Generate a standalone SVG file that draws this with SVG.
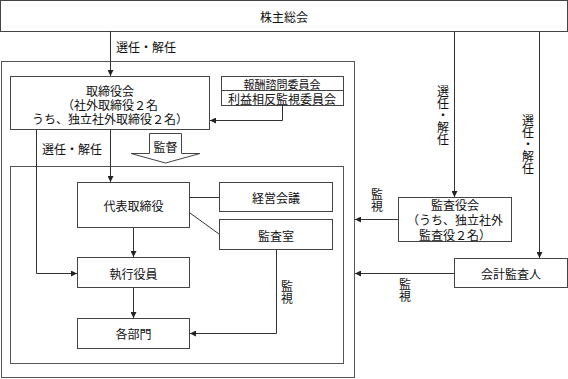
<svg xmlns="http://www.w3.org/2000/svg" width="568" height="379" viewBox="0 0 568 379">
<defs>
<style>
.b{fill:#fff;stroke:#444;stroke-width:1}
.o{fill:none;stroke:#555;stroke-width:1}
.t{font-family:"Noto Sans CJK JP","Noto Sans CJK SC",sans-serif;font-size:12px;fill:#111;text-anchor:middle;dominant-baseline:central}
.v{writing-mode:vertical-rl}
.c{fill:none;stroke:#333;stroke-width:1}
</style>
<marker id="a" markerWidth="6" markerHeight="6" refX="6" refY="3" orient="auto" markerUnits="userSpaceOnUse"><path d="M0,0 L6,3 L0,6 z" fill="#222"/></marker>
</defs>
<rect width="568" height="379" fill="#fff"/>
<g id="outer"><rect class="o" x="1.5" y="61.5" width="353" height="316"/></g>
<g id="inner"><rect class="o" x="10.5" y="166.5" width="333" height="197"/></g>
<g id="kabunushi"><rect class="b" x="0.5" y="0.5" width="567" height="31"/><text class="t" x="284" y="16">株主総会</text></g>
<g id="torishimariyakukai"><rect class="b" x="10.5" y="76.5" width="199" height="53"/><text class="t" x="110" y="90">取締役会</text><text class="t" x="110" y="104">（社外取締役２名</text><text class="t" x="110" y="118">うち、独立社外取締役２名）</text></g>
<g id="iinkai"><rect class="b" x="221.5" y="76.5" width="122" height="29"/><line class="b" x1="221.5" y1="90.5" x2="343.5" y2="90.5"/><text class="t" x="282" y="83.5" style="font-size:11px">報酬諮問委員会</text><text class="t" x="282" y="98">利益相反監視委員会</text></g>
<g id="kantoku"><polygon class="b" points="149.5,133.5 181.5,133.5 181.5,153.5 200,153.5 165.5,163 131,153.5 149.5,153.5"/><text class="t" x="165.5" y="146">監督</text></g>
<g id="daihyo"><rect class="b" x="77.5" y="182.5" width="112" height="45"/><text class="t" x="133.5" y="205">代表取締役</text></g>
<g id="keiei"><rect class="b" x="219.5" y="182.5" width="113" height="29"/><text class="t" x="276" y="197.5">経営会議</text></g>
<g id="kansashitsu"><rect class="b" x="219.5" y="219.5" width="113" height="30"/><text class="t" x="276" y="235.5">監査室</text></g>
<g id="shikko"><rect class="b" x="77.5" y="257.5" width="112" height="30"/><text class="t" x="133.5" y="273">執行役員</text></g>
<g id="kakubumon"><rect class="b" x="77.5" y="318.5" width="112" height="30"/><text class="t" x="133.5" y="333.5">各部門</text></g>
<g id="kansayakukai"><rect class="b" x="398.5" y="197.5" width="113" height="44"/><text class="t" x="455" y="204.5">監査役会</text><text class="t" x="455" y="219.5">（うち、独立社外</text><text class="t" x="455" y="234">監査役２名）</text></g>
<g id="kaikei"><rect class="b" x="454.5" y="258.5" width="113" height="29"/><text class="t" x="511" y="273">会計監査人</text></g>
<g id="connectors">
<path class="c" d="M110.5,31 V76" marker-end="url(#a)"/>
<path class="c" d="M282.5,105 V120.5 H210" marker-end="url(#a)"/>
<path class="c" d="M110.5,130 V182" marker-end="url(#a)"/>
<path class="c" d="M36.5,130 V273.5 H77" marker-end="url(#a)"/>
<path class="c" d="M133.5,228 V257" marker-end="url(#a)"/>
<path class="c" d="M133.5,288 V318" marker-end="url(#a)"/>
<path class="c" d="M190,197.5 H219"/>
<path class="c" d="M190,213 L219,234"/>
<path class="c" d="M276.5,250 V333.5 H190" marker-end="url(#a)"/>
<path class="c" d="M454.5,32 V197" marker-end="url(#a)"/>
<path class="c" d="M539.5,32 V258" marker-end="url(#a)"/>
<path class="c" d="M398,219.5 H355" marker-end="url(#a)"/>
<path class="c" d="M454,273.5 H355" marker-end="url(#a)"/>
</g>
<g id="labels">
<text class="t" x="146" y="46.5">選任・解任</text>
<text class="t" x="72" y="148">選任・解任</text>
<text class="t v" x="443" y="115">選任・解任</text>
<text class="t v" x="528" y="144.5">選任・解任</text>
<text class="t v" x="377" y="200">監視</text>
<text class="t v" x="405" y="290">監視</text>
<text class="t v" x="287" y="292">監視</text>
</g>
</svg>
